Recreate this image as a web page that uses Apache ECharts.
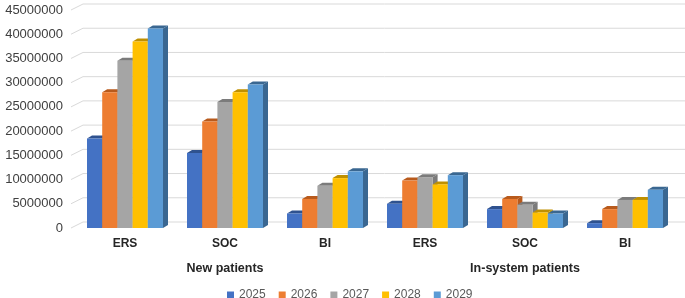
<!DOCTYPE html>
<html lang="en">
<head>
	<meta charset="UTF-8">
	<title>patients</title>
	<style type="text/css">
	body,html{
		width: 100%;
		height: 100%;
		margin: 0;
		padding: 0;
		background: #fff;
	}
	#container{
		width: 685px;
		height: 298px;
	}
	</style>
</head>
<body>
	<div id="container"></div>
<script type="text/javascript" src="https://cdn.jsdelivr.net/npm/echarts@6/dist/echarts.min.js"></script>
<script type="text/javascript">
	var categories = ['ERS', 'SOC', 'BI', 'ERS', 'SOC', 'BI'];
	var groups = ['New patients', 'In-system patients'];
	var years = ['2025', '2026', '2027', '2028', '2029'];
	var v2025 = [18500000, 15500000, 3000000, 5000000, 3900000, 1000000];
	var v2026 = [28000000, 22000000, 6000000, 9800000, 6000000, 3900000];
	var v2027 = [34500000, 26000000, 8700000, 10500000, 4800000, 5800000];
	var v2028 = [38500000, 28000000, 10300000, 9000000, 3200000, 5800000];
	var v2029 = [41200000, 29600000, 11700000, 10900000, 3000000, 7900000];
	var yTicks = {min: 0, max: 45000000, interval: 5000000};

	var values = [v2025, v2026, v2027, v2028, v2029];
	var front = ['#4472C4', '#ED7D31', '#A5A5A5', '#FFC000', '#5B9BD5'];
	var dark = ['#2F528F', '#B85A1C', '#7B7B7B', '#BF9000', '#3A6791'];

	var dx = 5, dy = 3;

	// bars with a side and a top face
	function renderBar(si) {
		return function (params, api) {
			var idx = api.value(0);
			var top = api.coord([idx, api.value(1)]);
			var base = api.coord([idx, 0]);
			var band = api.size([1, 0])[0];
			var w = band * 0.76 / 5;
			var x = top[0] - band * 0.38 + si * w;
			var t = top[1], b = base[1];
			return {
				type: 'group',
				children: [{
					type: 'polygon',
					shape: {points: [[x + w, t], [x + w + dx, t - dy], [x + w + dx, b - dy], [x + w, b]]},
					style: {fill: dark[si]}
				}, {
					type: 'polygon',
					shape: {points: [[x, t], [x + dx, t - dy], [x + w + dx, t - dy], [x + w, t]]},
					style: {fill: dark[si]}
				}, {
					type: 'rect',
					shape: {x: x, y: t, width: w, height: b - t},
					style: {fill: front[si]}
				}]
			};
		};
	}

	// back wall gridlines, slanted at the front
	function renderGrid(params, api) {
		var cs = params.coordSys;
		var y = api.coord([0, api.value(0)])[1];
		return {
			type: 'polyline',
			shape: {points: [[cs.x - 4, y], [cs.x + 8, y - 6], [cs.x + cs.width + 12, y - 6]]},
			style: {stroke: '#d9d9d9', lineWidth: 1, fill: null}
		};
	}

	var tickValues = [];
	for (var t = yTicks.min; t <= yTicks.max; t += yTicks.interval) tickValues.push([t]);

	var series = [{
		type: 'custom',
		name: 'grid',
		z: 1,
		silent: true,
		renderItem: renderGrid,
		encode: {y: 0},
		data: tickValues
	}].concat(years.map(function (y, si) {
		return {
			type: 'custom',
			name: y,
			z: 2,
			xAxisIndex: 0,
			yAxisIndex: 0,
			itemStyle: {color: front[si]},
			renderItem: renderBar(si),
			encode: {x: 0, y: 1},
			data: values[si].map(function (v, i) { return [i, v]; })
		};
	}));

	var option = {
		animation: false,
		backgroundColor: '#fff',
		textStyle: {fontFamily: 'Liberation Sans, Arial, sans-serif'},
		grid: {left: 75, right: 10, top: 10, bottom: 70},
		legend: {
			data: years,
			top: 284,
			left: 222,
			icon: 'rect',
			itemWidth: 7,
			itemHeight: 7,
			itemGap: 13,
			textStyle: {color: '#595959', fontSize: 12}
		},
		xAxis: [{
			type: 'category',
			data: categories,
			axisLine: {show: false},
			axisTick: {show: false},
			axisLabel: {color: '#262626', fontSize: 12, fontWeight: 'bold', margin: 10}
		}, {
			type: 'category',
			data: groups,
			position: 'bottom',
			offset: 24,
			axisLine: {show: false},
			axisTick: {show: false},
			axisLabel: {color: '#262626', fontSize: 12.5, fontWeight: 'bold', margin: 10}
		}],
		yAxis: {
			type: 'value',
			min: yTicks.min,
			max: yTicks.max,
			interval: yTicks.interval,
			axisLine: {show: false},
			axisTick: {show: false},
			axisLabel: {
				color: '#404040',
				fontSize: 13,
				margin: 12,
				formatter: function (v) { return String(v); }
			},
			splitLine: {show: false}
		},
		series: series
	};

	var container = echarts.init(document.getElementById('container'));
	container.setOption(option, true);
</script>
</body>
</html>
